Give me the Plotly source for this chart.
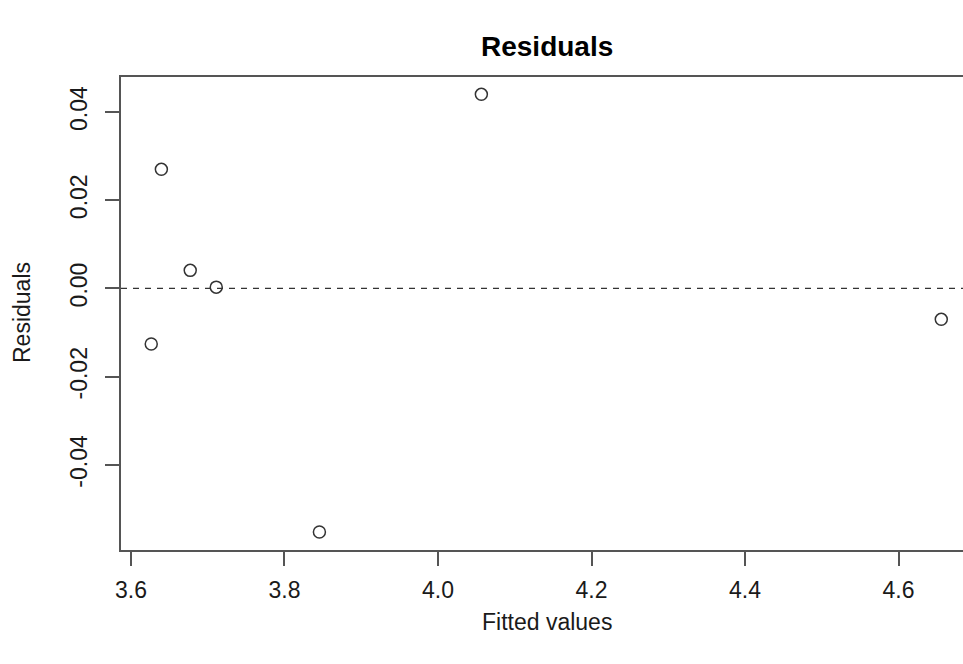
import plotly.graph_objects as go

fitted_values = [3.6264, 3.6396, 3.6772, 3.7111, 3.8455, 4.0565, 4.6557]
residuals = [-0.0126, 0.0270, 0.0041, 0.0003, -0.0552, 0.0440, -0.0070]
x_ticks = [3.6, 3.8, 4.0, 4.2, 4.4, 4.6]
x_tick_labels = ["3.6", "3.8", "4.0", "4.2", "4.4", "4.6"]
y_ticks = [-0.04, -0.02, 0.00, 0.02, 0.04]
y_tick_labels = ["-0.04", "-0.02", "0.00", "0.02", "0.04"]

FONT = "Liberation Sans, Arial, Helvetica, sans-serif"
W, H = 963, 664
L, T, B = 121, 77, 114
PH = H - T - B
PW = W - L

fig = go.Figure()
fig.add_trace(go.Scatter(
    x=fitted_values, y=residuals, mode="markers",
    marker=dict(symbol="circle-open", size=12, color="#333333",
                line=dict(width=1.5, color="#333333")),
    hoverinfo="x+y", showlegend=False,
))

fig.add_shape(type="line", xref="x domain", yref="y", x0=0, x1=1, y0=0, y1=0,
              line=dict(color="#333333", width=1.2, dash="6px,6px"))

fig.update_layout(
    width=W, height=H,
    margin=dict(l=L, r=0, t=T, b=B),
    paper_bgcolor="white", plot_bgcolor="white",
    font=dict(family=FONT, size=23, color="#1a1a1a"),
    xaxis=dict(range=[3.587, 4.684], tickvals=x_ticks, ticktext=x_tick_labels,
               showgrid=False, zeroline=False, showline=True, mirror=True,
               linecolor="#555555", linewidth=1.5,
               ticks="outside", ticklen=14, tickwidth=1.5, tickcolor="#555555",
               ticklabelstandoff=5,
               tickfont=dict(size=23, family=FONT, color="#1a1a1a")),
    yaxis=dict(range=[-0.05928, 0.04793], tickvals=y_ticks, ticktext=y_tick_labels,
               showgrid=False, zeroline=False, showline=True, mirror=False,
               linecolor="#555555", linewidth=1.5,
               ticks="outside", ticklen=14, tickwidth=1.5, tickcolor="#555555",
               tickangle=-90, ticklabelstandoff=9,
               tickfont=dict(size=23, family=FONT, color="#1a1a1a")),
    annotations=[
        dict(text="<b>Residuals</b>", xref="paper", yref="paper",
             x=(547 - L) / PW, y=1 + (T - 47) / PH,
             xanchor="center", yanchor="middle", showarrow=False,
             font=dict(size=28, family=FONT, color="#000000")),
        dict(text="Fitted values", xref="paper", yref="paper",
             x=(547 - L) / PW, y=-(622 - (T + PH)) / PH,
             xanchor="center", yanchor="middle", showarrow=False,
             font=dict(size=23, family=FONT, color="#1a1a1a")),
        dict(text="Residuals", xref="paper", yref="paper",
             x=-(L - 22) / PW, y=(T + PH - 313) / PH,
             xanchor="center", yanchor="middle", showarrow=False, textangle=-90,
             font=dict(size=23, family=FONT, color="#1a1a1a")),
    ],
)

fig.write_html("out.html",
               config={"displayModeBar": False},
               post_script="document.body.style.margin='0';document.body.style.overflow='hidden';")
